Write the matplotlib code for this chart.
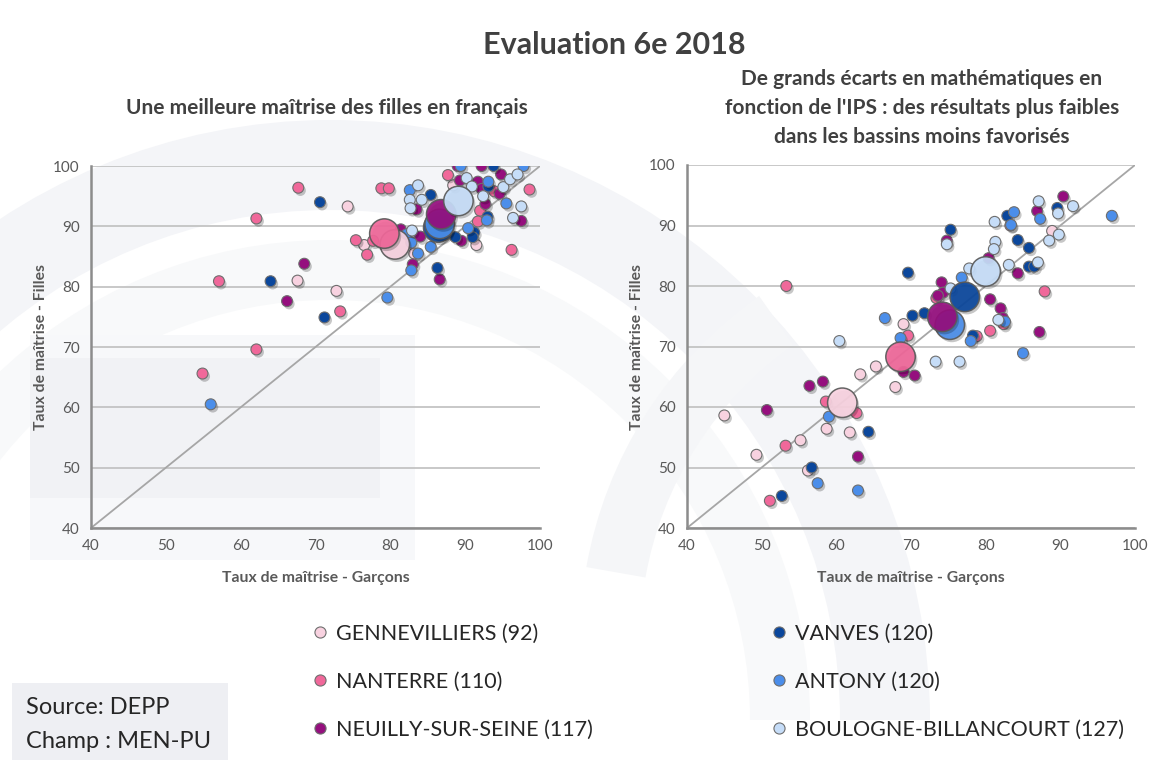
import matplotlib
matplotlib.use("Agg")
import matplotlib.pyplot as plt
import matplotlib.patheffects as pe
from matplotlib.lines import Line2D
from matplotlib.patches import Wedge, Rectangle

plt.rcParams["font.family"] = ["Lato", "DejaVu Sans"]

W, H = 1149, 760

groups = ["GENNEVILLIERS (92)", "NANTERRE (110)", "NEUILLY-SUR-SEINE (117)",
          "VANVES (120)", "ANTONY (120)", "BOULOGNE-BILLANCOURT (127)"]
colors = ["#F8D2E0", "#F0689A", "#950F7E", "#0B479C", "#4B8EEA", "#C6DDF8"]

# --- Français : (garçons, filles) par établissement ---
fr_genn_x = [74.3, 76.5, 83.2, 88.4, 91.5, 67.6, 72.8]
fr_genn_y = [93.3, 86.9, 85.5, 96.8, 86.9, 81.0, 79.3]
fr_nant_x = [67.7, 62.1, 78.8, 79.8, 87.7, 93.9, 98.6, 92.0, 91.7, 96.2, 75.4, 76.9,
             57.1, 73.3, 62.1, 54.9, 77.7]
fr_nant_y = [96.4, 91.3, 96.3, 96.3, 98.5, 95.8, 96.1, 92.6, 90.8, 86.1, 87.7, 85.3,
             80.9, 75.9, 69.6, 65.6, 87.6]
fr_neui_x = [89.0, 92.2, 94.8, 89.3, 91.7, 92.2, 94.6, 92.7, 97.5, 89.5, 83.5, 81.4,
             84.0, 83.0, 86.6, 68.5, 66.2]
fr_neui_y = [100.0, 100.0, 98.6, 97.6, 97.4, 96.2, 95.4, 93.7, 90.9, 87.6, 92.8, 89.5,
             88.3, 83.7, 81.2, 83.8, 77.6]
fr_vanv_x = [70.6, 85.4, 93.8, 93.1, 93.0, 91.2, 91.0, 88.7, 86.3, 64.0, 71.2]
fr_vanv_y = [94.0, 95.2, 100.0, 96.6, 91.6, 89.0, 88.2, 88.2, 83.1, 80.9, 74.9]
fr_anto_x = [89.4, 97.8, 93.1, 82.6, 95.5, 92.9, 90.4, 82.2, 82.8, 85.4, 83.7, 82.8,
             79.6, 56.0]
fr_anto_y = [100.0, 100.0, 97.4, 96.0, 93.8, 91.0, 89.7, 88.7, 87.3, 86.6, 85.5, 82.7,
             78.2, 60.5]
fr_boul_x = [83.7, 82.6, 84.2, 82.7, 90.2, 90.9, 95.1, 96.0, 97.0, 92.4, 97.5, 96.4, 82.9]
fr_boul_y = [96.8, 94.4, 94.4, 93.0, 98.0, 96.6, 96.5, 97.8, 98.6, 95.0, 93.3, 91.4, 89.3]
# moyennes de bassin (grosses bulles)
fr_mean_x = [80.6, 79.2, 86.8, 86.4, 86.6, 89.1]
fr_mean_y = [87.0, 88.8, 92.0, 89.8, 90.4, 94.2]

# --- Mathématiques ---
ma_genn_x = [69.0, 65.3, 63.2, 67.9, 45.0, 58.7, 61.8, 55.2, 49.3, 56.2, 88.9]
ma_genn_y = [73.7, 66.7, 65.4, 63.3, 58.6, 56.4, 55.8, 54.5, 52.1, 49.5, 89.1]
ma_nant_x = [53.3, 69.6, 73.4, 58.6, 62.7, 53.2, 51.1, 87.9, 80.6, 78.8, 82.4, 83.3]
ma_nant_y = [80.0, 71.8, 78.0, 60.9, 59.0, 53.6, 44.5, 79.1, 72.6, 71.7, 73.7, 90.0]
ma_neui_x = [74.1, 74.3, 73.6, 74.8, 80.4, 84.3, 86.9, 90.4, 80.6, 82.0, 82.3, 87.2,
             56.4, 58.2, 69.0, 70.5, 50.7, 62.9]
ma_neui_y = [80.6, 78.9, 78.4, 87.5, 84.6, 82.1, 92.4, 94.8, 77.8, 76.3, 74.7, 72.4,
             63.5, 64.2, 65.8, 65.2, 59.5, 51.8]
ma_vanv_x = [69.6, 70.2, 71.8, 75.3, 82.9, 84.3, 85.8, 85.8, 86.5, 89.6, 78.3, 64.3,
             56.7, 52.7]
ma_vanv_y = [82.2, 75.1, 75.5, 89.3, 91.6, 87.6, 86.3, 83.2, 83.2, 92.9, 71.8, 55.9,
             50.0, 45.3]
ma_anto_x = [66.5, 68.6, 76.8, 83.8, 83.4, 87.3, 96.9, 82.6, 78.0, 85.0, 59.0, 57.5, 62.9]
ma_anto_y = [74.7, 71.4, 81.4, 92.2, 90.1, 91.1, 91.6, 74.1, 70.9, 68.9, 58.4, 47.4, 46.2]
ma_boul_x = [60.4, 75.3, 74.8, 77.8, 81.2, 81.3, 81.1, 83.1, 87.0, 87.1, 89.7, 91.7,
             89.8, 88.5, 81.7, 73.3, 76.5]
ma_boul_y = [70.9, 79.6, 86.9, 82.9, 90.6, 87.3, 86.1, 83.5, 83.9, 94.0, 92.0, 93.2,
             88.5, 87.5, 74.4, 67.5, 67.5]
ma_mean_x = [60.8, 68.6, 74.2, 77.2, 75.2, 80.0]
ma_mean_y = [60.7, 68.3, 74.9, 78.2, 73.6, 82.4]

fr_pts = [(fr_genn_x, fr_genn_y), (fr_nant_x, fr_nant_y), (fr_neui_x, fr_neui_y),
          (fr_vanv_x, fr_vanv_y), (fr_anto_x, fr_anto_y), (fr_boul_x, fr_boul_y)]
ma_pts = [(ma_genn_x, ma_genn_y), (ma_nant_x, ma_nant_y), (ma_neui_x, ma_neui_y),
          (ma_vanv_x, ma_vanv_y), (ma_anto_x, ma_anto_y), (ma_boul_x, ma_boul_y)]

# ordre d'empilement des grosses bulles
big_order = [0, 1, 3, 4, 2, 5]

TXT = "#404040"
GRID = "#BFBFBF"

fig = plt.figure(figsize=(W / 100, H / 100), dpi=100)

# fond : filigrane gris très clair
bg = fig.add_axes([0, 0, 1, 1], zorder=-5)
bg.set_xlim(0, W)
bg.set_ylim(H, 0)
bg.axis("off")
bg.add_patch(Wedge((330, 720), 600, 180, 360, width=90, color="#F4F5F8", lw=0))
bg.add_patch(Wedge((330, 720), 480, 180, 360, width=60, color="#F8F9FA", lw=0))
bg.add_patch(Rectangle((30, 335), 385, 225, color="#F7F8FA", lw=0))
bg.add_patch(Rectangle((30, 358), 350, 140, color="#F1F2F5", lw=0))
bg.add_patch(Wedge((1000, 640), 420, 190, 235, width=60, color="#F5F6F8", lw=0))
bg.add_patch(Rectangle((12, 683), 216, 77, color="#EEEFF3", lw=0))


def px_axes(x0, y0, x1, y1):
    return fig.add_axes([x0 / W, 1 - y1 / H, (x1 - x0) / W, (y1 - y0) / H])


shadow = [pe.SimplePatchShadow(offset=(1.5, -2), shadow_rgbFace="black", alpha=0.22),
          pe.Normal()]


def draw_panel(ax, pts, mean_x, mean_y):
    ax.set_facecolor("none")
    ax.set_xlim(40, 100)
    ax.set_ylim(40, 100)
    ax.set_xticks(range(40, 101, 10))
    ax.set_yticks(range(40, 101, 10))
    ax.grid(axis="y", color=GRID, lw=1.2)
    ax.set_axisbelow(True)
    for s in ["top", "right"]:
        ax.spines[s].set_visible(False)
    for s in ["left", "bottom"]:
        ax.spines[s].set_color("#8C8C8C")
        ax.spines[s].set_linewidth(1.8)
    ax.tick_params(length=0, labelsize=11, labelcolor="#595959", pad=8)
    ax.plot([40, 100], [40, 100], color="#A6A6A6", lw=1.3, zorder=2)
    for (xs, ys), c in zip(pts, colors):
        ax.scatter(xs, ys, s=62, color=c, edgecolors="#6E6E6E", linewidths=0.8,
                   zorder=3, path_effects=shadow)
    for i in big_order:
        ax.scatter([mean_x[i]], [mean_y[i]], s=450, color=colors[i],
                   edgecolors="#5A5A5A", linewidths=1.1, zorder=4, alpha=0.93,
                   path_effects=shadow)
    ax.set_xlabel("Taux de maîtrise - Garçons", fontsize=11.3, fontweight="bold",
                  color="#595959", labelpad=13)
    ax.set_ylabel("Taux de maîtrise - Filles", fontsize=11.3, fontweight="bold",
                  color="#595959", labelpad=4)


ax1 = px_axes(91, 166, 540, 528)
draw_panel(ax1, fr_pts, fr_mean_x, fr_mean_y)
ax2 = px_axes(687, 165, 1135, 528)
draw_panel(ax2, ma_pts, ma_mean_x, ma_mean_y)

fig.text(614 / W, 1 - 45 / H, "Evaluation 6e 2018", ha="center", va="center",
         fontsize=22, fontweight="bold", color=TXT)
fig.text(327 / W, 1 - 108 / H, "Une meilleure maîtrise des filles en français",
         ha="center", va="center", fontsize=15, fontweight="bold", color=TXT)
fig.text(922 / W, 1 - 108 / H,
         "De grands écarts en mathématiques en\nfonction de l'IPS : des résultats plus faibles\n"
         "dans les bassins moins favorisés",
         ha="center", va="center", fontsize=15, fontweight="bold", color=TXT,
         linespacing=1.55)

# légende en deux colonnes
handles = [Line2D([], [], ls="none", marker="o", markersize=8, markerfacecolor=c,
                  markeredgecolor="#6E6E6E", markeredgewidth=0.8) for c in colors]
for k, (x0, y0) in enumerate([(314, 624), (773, 624)]):
    lg = fig.legend(handles[3 * k:3 * k + 3], groups[3 * k:3 * k + 3],
                    loc="upper left", bbox_to_anchor=(x0 / W, 1 - y0 / H),
                    frameon=False, fontsize=15.5, handlelength=0.6, handletextpad=0.4,
                    labelspacing=1.3, borderpad=0, borderaxespad=0)
    for t in lg.get_texts():
        t.set_color("#262626")

fig.text(26 / W, 1 - 707 / H, "Source: DEPP", fontsize=17, color="#262626", va="center")
fig.text(26 / W, 1 - 741 / H, "Champ : MEN-PU", fontsize=17, color="#262626", va="center")

fig.savefig("out.png", dpi=100)
